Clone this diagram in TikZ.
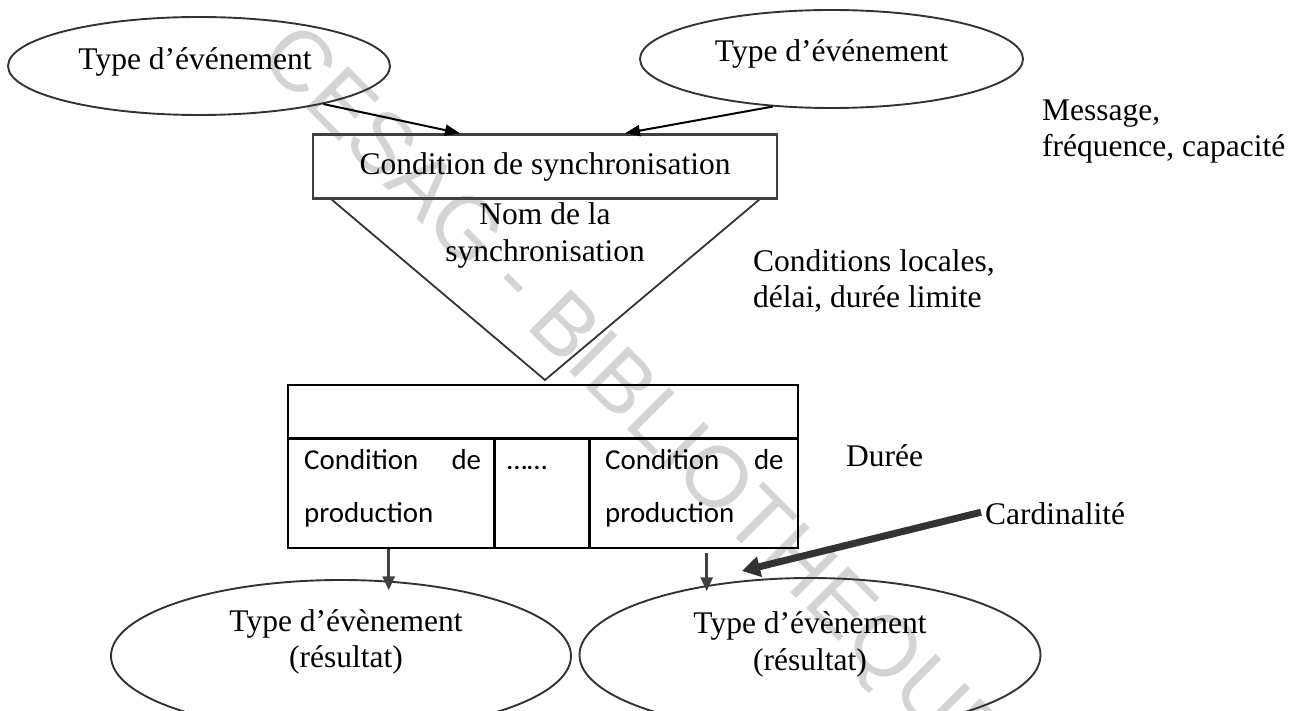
\documentclass[tikz,border=0pt]{standalone}
\usepackage{fontspec}
\setmainfont{Liberation Serif}
\newfontfamily\calibri{Carlito}
\newfontfamily\wmfont{Liberation Sans}
\usetikzlibrary{shapes.geometric, arrows.meta, calc}

\begin{document}
\begin{tikzpicture}[x=1pt, y=-1pt,
  serif/.style={font=\fontsize{31.5}{36.5}\selectfont, inner sep=0pt},
  cal/.style={font=\calibri\fontsize{28.9}{34}\selectfont, inner sep=0pt},
  oval/.style={ellipse, draw=black!80, line width=1.9pt, inner sep=0pt},
  flow/.style={draw=black, line width=2pt, -{Triangle[length=15pt, width=11pt]}},
  drop/.style={draw=black!75, line width=2.6pt, -{Triangle[length=14pt, width=12pt]}},
  grid/.style={draw=black, line width=2.6pt},
  thickarrow/.style={draw=black!80, line width=7pt, -{Triangle[length=18pt, width=20pt]}},
]
\useasboundingbox (0,0) rectangle (1304,711);
\clip (0,0) rectangle (1304,711);

% library stamp behind everything
\node[font=\wmfont\fontsize{86}{86}\selectfont, text=black!17, rotate=-45, inner sep=0pt]
  (stamp) at (631,402) {CESAG - BIBLIOTHEQUE};

% input event types
\node[oval, minimum width=382pt, minimum height=98pt] (evA) at (199,66) {};
\node[serif, anchor=base] (evAtxt) at (195,70) {Type d’événement};
\node[oval, minimum width=383pt, minimum height=98pt] (evB) at (831.5,59) {};
\node[serif, anchor=base] (evBtxt) at (831.5,62) {Type d’événement};

% synchronisation condition
\node[draw=black!75, line width=2.4pt, minimum width=464pt, minimum height=64pt, inner sep=0pt]
  (sync) at (545,166.5) {};
\node[serif, anchor=base] (synctxt) at (545,175) {Condition de synchronisation};

\draw[flow] (evA.-17) -- ($(sync.north)+(-85,0)$);
\draw[flow] (evB.-141) -- ($(sync.north)+(80,0)$);

% synchronisation triangle
\coordinate (triL) at ($(sync.south west)+(20,0)$);
\coordinate (triR) at ($(sync.south east)+(-19,0)$);
\coordinate (triApex) at (545,380);
\draw[draw=black!80, line width=1.8pt] (triL) -- (triApex) -- (triR);
\node[serif, anchor=base] (nomA) at (545,224.5) {Nom de la};
\node[serif, anchor=base] (nomB) at (545,262) {synchronisation};

% side annotations
\node[serif, anchor=base west] (msgA) at (1042,120.5) {Message,};
\node[serif, anchor=base west] (msgB) at (1042,157) {fréquence, capacité};
\node[serif, anchor=base west] (locA) at (753,271.5) {Conditions locales,};
\node[serif, anchor=base west] (locB) at (753,308) {délai, durée limite};
\node[serif, anchor=base west] (duree) at (846,466.7) {Durée};
\node[serif, anchor=base west] (card) at (985,524) {Cardinalité};

% production table
\node[grid, minimum width=510pt, minimum height=163pt, inner sep=0pt] (tbl) at (543,466.5) {};
\draw[grid] ($(tbl.north west)+(0,55)$) -- ($(tbl.north east)+(0,55)$);
\draw[grid] ($(tbl.north west)+(208,55)$) -- ($(tbl.south west)+(208,0)$);
\draw[grid] ($(tbl.north west)+(303,55)$) -- ($(tbl.south west)+(303,0)$);
\node[cal, anchor=base west] (pA1) at (304,469) {\hbox to 177pt{Condition\hfill de}};
\node[cal, anchor=base west] (pA2) at (304,522) {production};
\node[cal, anchor=base west] (pDots) at (507,469) {……};
\node[cal, anchor=base west] (pB1) at (605,469) {\hbox to 178.5pt{Condition\hfill de}};
\node[cal, anchor=base west] (pB2) at (605,522) {production};

% result event types
\node[oval, minimum width=460pt, minimum height=152pt] (evC) at (341,656) {};
\node[serif, anchor=base] (evCtxt) at (346,631.5) {Type d’évènement};
\node[serif, anchor=base] (evCres) at (346,667.5) {(résultat)};
\node[oval, minimum width=461pt, minimum height=154pt] (evD) at (810,655) {};
\node[serif, anchor=base] (evDtxt) at (810,633) {Type d’évènement};
\node[serif, anchor=base] (evDres) at (810,670) {(résultat)};

\draw[drop] ($(tbl.south west)+(102,0)$) -- ($(tbl.south west)+(102,41)$);
\draw[drop] ($(tbl.south west)+(420,4)$) -- ($(tbl.south west)+(420,42)$);

% cardinality pointer
\coordinate (cardTip) at (742,571);
\draw[thickarrow] (card.west) ++(-4,-1) -- (cardTip);
\end{tikzpicture}
\end{document}
